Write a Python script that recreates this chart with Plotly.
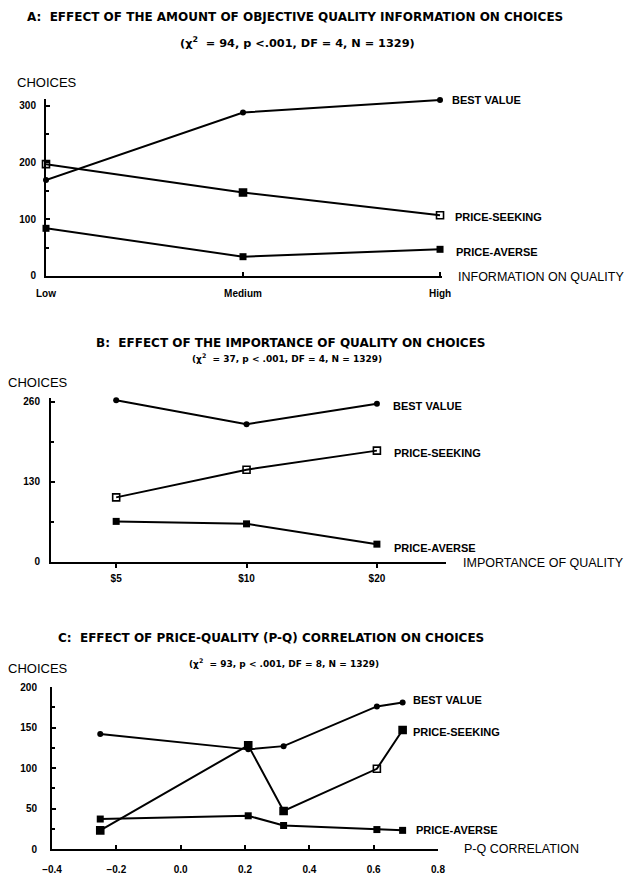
import plotly.graph_objects as go

# the page places the figure 8 px from the window's top-left corner
OFF = 8
W, H = 637 - OFF, 896 - OFF

# ---------------- data ----------------
# Panel A: amount of objective quality information
a_levels = ["Low", "Medium", "High"]
a_best_value = [169, 288, 310]
a_price_seeking = [197, 147, 107]
a_price_averse = [84, 34, 47]

# Panel B: importance of quality
b_levels = ["$5", "$10", "$20"]
b_best_value = [263, 224, 257]
b_price_seeking = [105, 150, 181]
b_price_averse = [66, 62, 29]

# Panel C: price-quality correlation
c_corr = [-0.25, 0.21, 0.32, 0.61, 0.69]
c_best_value = [142, 123, 127, 176, 181]
c_price_seeking = [23, 128, 47, 99, 147]
c_price_averse = [37, 41, 29, 24, 23]

FONT = "Liberation Sans, Arial, sans-serif"
WIDE = "DejaVu Sans, Verdana, sans-serif"


def px(x):
    return (x - OFF) / W


def py(y):
    return 1 - (y - OFF) / H


fig = go.Figure()

line_style = dict(color="black", width=2)


def marker(key, n, panel):
    if key == "bv":
        return dict(symbol="circle", size=6, color="black")
    if key == "pa":
        return dict(symbol="square", size=7, color="black")
    # price-seeking: hollow squares, some printed solid in the original
    sym = ["square-open"] * n
    if panel == "A":
        sym[1] = "square"
    elif panel == "C":
        sym = ["square", "square", "square", "square-open", "square"]
    return dict(symbol=sym, size=7, color="black", line=dict(width=1.6, color="black"))


panels = [
    ("A", "x", "y", list(range(len(a_levels))), a_best_value, a_price_seeking, a_price_averse),
    ("B", "x2", "y2", list(range(len(b_levels))), b_best_value, b_price_seeking, b_price_averse),
    ("C", "x3", "y3", c_corr, c_best_value, c_price_seeking, c_price_averse),
]
for pan, xa, ya, xs, bv, ps, pa in panels:
    for name, vals, key in (("BEST VALUE", bv, "bv"), ("PRICE-SEEKING", ps, "ps"), ("PRICE-AVERSE", pa, "pa")):
        fig.add_trace(go.Scatter(
            x=xs, y=vals, xaxis=xa, yaxis=ya, mode="lines+markers",
            line=line_style, marker=marker(key, len(vals), pan), name=name,
            showlegend=False, cliponaxis=False, hoverinfo="x+y",
        ))

tickfont = dict(family=FONT, size=10, color="black", weight="bold")
common_x = dict(showline=True, linecolor="black", linewidth=2, showgrid=False, zeroline=False,
                tickfont=tickfont, tickcolor="black", tickwidth=1.5, ticklen=4, automargin=False)
common_y = dict(showline=True, linecolor="black", linewidth=2, showgrid=False, zeroline=False,
                tickfont=tickfont, tickcolor="black", tickwidth=1.5, ticklen=4, ticks="inside",
                automargin=False)

# pixel geometry of each panel (value 0 baseline and px per unit)
A_Y0, A_K = 276.0, (276.0 - 105.7) / 300
B_Y0, B_K = 562.0, (562.0 - 402.0) / 260
C_Y0, C_K = 849.0, (849.0 - 687.0) / 200
A_TOP, B_TOP, C_TOP = 312, 266, 200

fig.update_layout(
    width=W, height=H, margin=dict(l=0, r=0, t=0, b=0, pad=0, autoexpand=False),
    autosize=False,
    paper_bgcolor="white", plot_bgcolor="white",
    font=dict(family=FONT, color="black"),
    xaxis=dict(common_x, domain=[px(46), px(442)], range=[0, 2.01], anchor="y",
               tickmode="array", tickvals=list(range(len(a_levels))), ticktext=a_levels,
               ticks="inside", ticklabelstandoff=7),
    yaxis=dict(common_y, domain=[py(A_Y0), py(A_Y0 - A_TOP * A_K)], range=[0, A_TOP], anchor="x",
               tickmode="array", tickvals=[0, 100, 200, 300], ticklabelstandoff=6,
               minor=dict(tickmode="array", tickvals=[50, 150, 250], ticks="inside", ticklen=3,
                          tickcolor="black")),
    xaxis2=dict(common_x, domain=[px(51), px(446)], range=[-0.5, 2.53], anchor="y2",
                tickmode="array", tickvals=list(range(len(b_levels))), ticktext=b_levels,
                ticks="outside", ticklabelstandoff=2),
    yaxis2=dict(common_y, domain=[py(B_Y0), py(B_Y0 - B_TOP * B_K)], range=[0, B_TOP], anchor="x2",
                tickmode="array", tickvals=[0, 130, 260], ticklabelstandoff=7,
                minor=dict(tickmode="array", tickvals=[65, 195], ticks="inside", ticklen=3,
                           tickcolor="black")),
    xaxis3=dict(common_x, domain=[px(52), px(438)], range=[-0.4, 0.8], anchor="y3",
                tick0=-0.4, dtick=0.2, tickformat=".1f", ticks="inside", ticklabelstandoff=10),
    yaxis3=dict(common_y, domain=[py(C_Y0), py(C_Y0 - C_TOP * C_K)], range=[0, C_TOP], anchor="x3",
                tick0=0, dtick=50, ticklabelstandoff=11,
                minor=dict(tick0=0, dtick=25, ticks="inside", ticklen=3, tickcolor="black")),
)

ann = []


def text(x, y, s, size, bold=False, xanchor="left", family=FONT):
    ann.append(dict(
        x=px(x), y=py(y), xref="paper", yref="paper", text=s,
        showarrow=False, xanchor=xanchor, yanchor="middle", borderpad=0,
        font=dict(family=family, size=size, color="black", weight="bold" if bold else "normal"),
    ))


# titles and subtitles
text(295, 17, "A:  EFFECT OF THE AMOUNT OF OBJECTIVE QUALITY INFORMATION ON CHOICES", 12, True, "center", WIDE)
text(297, 43, "(χ<sup>2</sup>  = 94, p &lt;.001, DF = 4, N = 1329)", 11.3, True, "center", WIDE)
text(291, 343, "B:  EFFECT OF THE IMPORTANCE OF QUALITY ON CHOICES", 12, True, "center", WIDE)
text(287, 358, "(χ<sup>2</sup>  = 37, p &lt; .001, DF = 4, N = 1329)", 9, True, "center", WIDE)
text(271, 638, "C:  EFFECT OF PRICE-QUALITY (P-Q) CORRELATION ON CHOICES", 12, True, "center", WIDE)
text(284, 663, "(χ<sup>2</sup>  = 93, p &lt; .001, DF = 8, N = 1329)", 9, True, "center", WIDE)

# y axis titles
text(16, 83, "CHOICES", 13)
text(7, 382, "CHOICES", 13)
text(7, 668, "CHOICES", 13)

# x axis titles
text(457, 277, "INFORMATION ON QUALITY", 12.5)
text(462, 563, "IMPORTANCE OF QUALITY", 12.5)
text(463, 849, "P-Q CORRELATION", 12.5)

# series labels
for (x, y, s) in [
    (451, 100, "BEST VALUE"), (454, 217, "PRICE-SEEKING"), (455, 252, "PRICE-AVERSE"),
    (392, 406, "BEST VALUE"), (393, 453, "PRICE-SEEKING"), (393, 548, "PRICE-AVERSE"),
    (412, 700, "BEST VALUE"), (412, 732, "PRICE-SEEKING"), (415, 830, "PRICE-AVERSE"),
]:
    text(x, y, s, 11, True)

fig.update_layout(annotations=ann)

fig.write_html("out.html")
